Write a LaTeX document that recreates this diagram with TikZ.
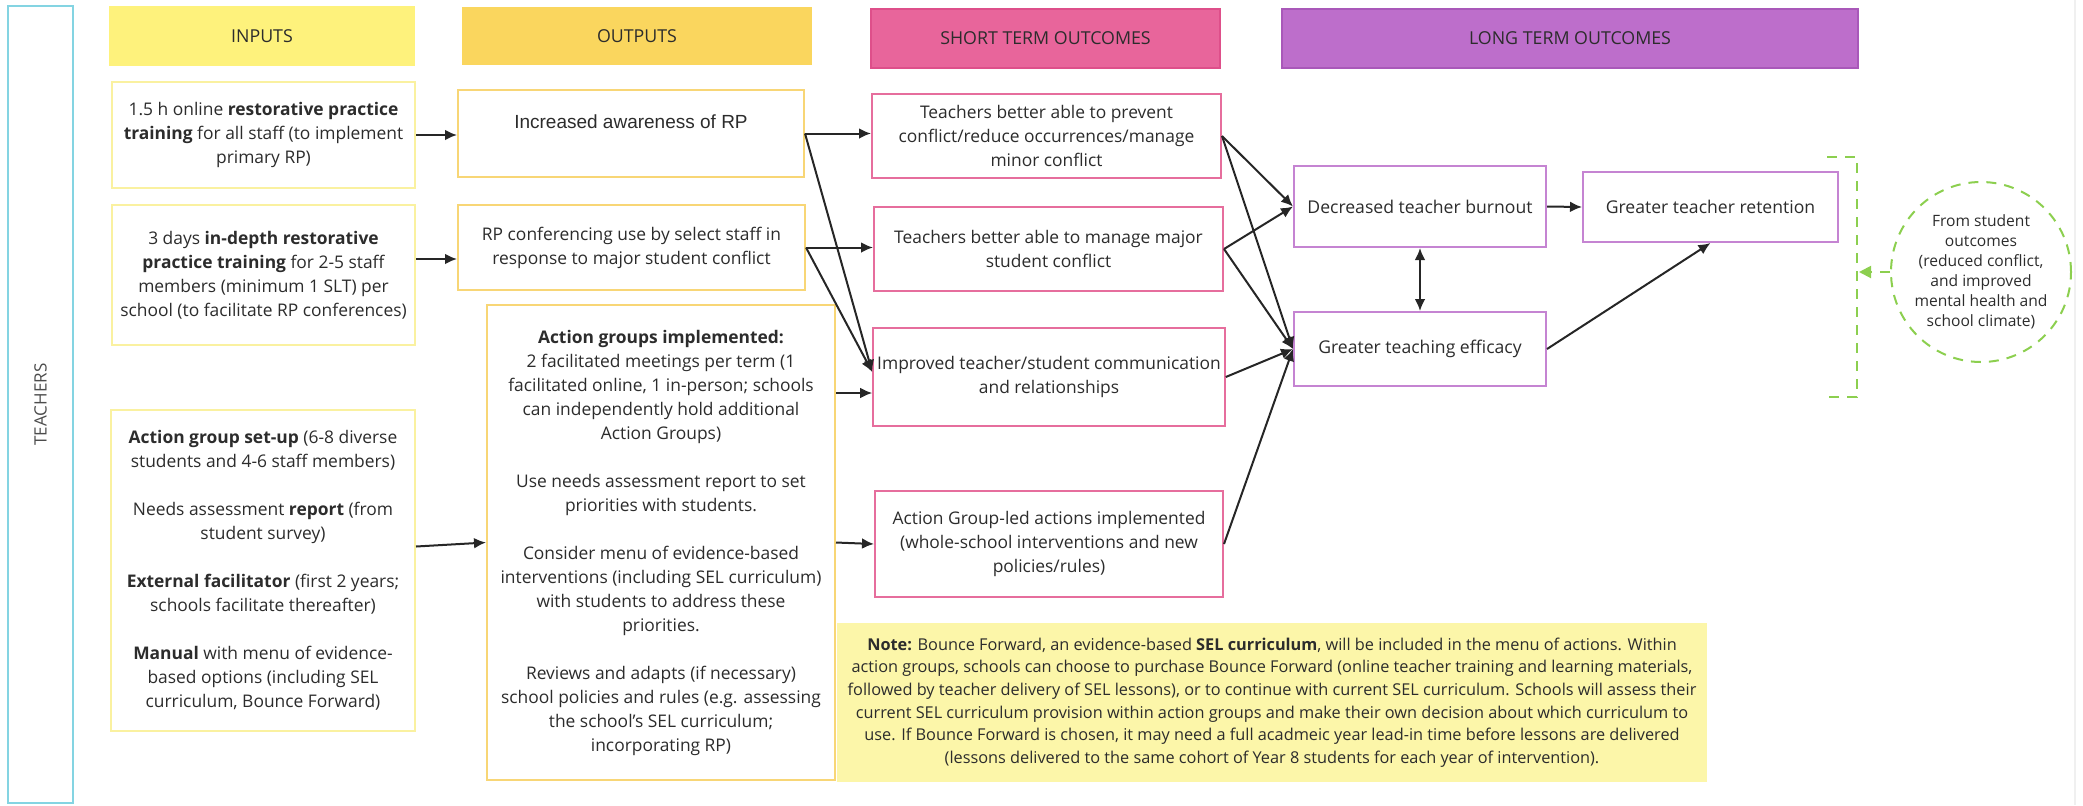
\documentclass[tikz,border=0pt]{standalone}
\usepackage{fontspec}
\setmainfont{Open Sans}
\newfontfamily\arialfont{Liberation Sans}
\usetikzlibrary{arrows.meta}
\definecolor{textgray}{HTML}{2C2C2C}
\definecolor{arrowgray}{HTML}{262626}
\definecolor{tealline}{HTML}{84D4E2}
\definecolor{inhead}{HTML}{FEF27C}
\definecolor{inline}{HTML}{FAF1A0}
\definecolor{outhead}{HTML}{FAD65E}
\definecolor{outline}{HTML}{F8D676}
\definecolor{sthead}{HTML}{E8659B}
\definecolor{stheadline}{HTML}{DE4F8A}
\definecolor{stline}{HTML}{E66E9D}
\definecolor{lthead}{HTML}{BD6ECB}
\definecolor{ltheadline}{HTML}{A958B9}
\definecolor{ltline}{HTML}{C584D2}
\definecolor{notefill}{HTML}{FCF6A9}
\definecolor{greendash}{HTML}{8CCF4F}
\newcommand\bodysize{\fontsize{8.7pt}{12pt}\selectfont}
\newcommand\headsize{\fontsize{8.9pt}{11pt}\selectfont}
\newcommand\longsize{\fontsize{8.8pt}{12pt}\selectfont}
\newcommand\notesize{\fontsize{8.15pt}{11.3pt}\selectfont}
\newcommand\circsize{\fontsize{7.8pt}{10pt}\selectfont}
\tikzset{
  flowarrow/.style={-{Latex[length=6pt,width=5.4pt]}, line width=1pt, draw=arrowgray},
  header/.style={inner sep=0pt, text=textgray, font=\headsize},
  inbox/.style={draw=inline, line width=1pt, fill=white, align=center, inner sep=2pt, text=textgray, font=\bodysize},
  outbox/.style={draw=outline, line width=1pt, fill=white, align=center, inner sep=2pt, text=textgray, font=\bodysize},
  shortbox/.style={draw=stline, line width=1pt, fill=white, align=center, inner sep=2pt, text=textgray, font=\bodysize},
  longbox/.style={draw=ltline, line width=1pt, fill=white, align=center, inner sep=2pt, text=textgray, font=\longsize},
  notebox/.style={fill=notefill, align=center, inner sep=1pt, text=textgray, font=\notesize},
  greenline/.style={draw=greendash, line width=1pt, dash pattern=on 5pt off 4pt}
}
\begin{document}
\begin{tikzpicture}[x=0.5pt, y=-0.5pt]
  \useasboundingbox (0,0) rectangle (2083,805);
  \draw[gray!12, line width=1pt] (2075,0) -- (2075,805);

  % side label
  \node[draw=tealline, line width=1pt, rotate=90, minimum width=398.5pt, minimum height=32.5pt,
        text=textgray!85, font=\fontsize{8.5pt}{10pt}\selectfont] (teach) at (40.5,404.5) {TEACHERS};

  % column headers
  \node[header, fill=inhead, minimum width=153pt, minimum height=30pt] (inputs) at (262,36) {INPUTS};
  \node[header, fill=outhead, minimum width=175pt, minimum height=29pt] (outputs) at (637,36) {OUTPUTS};
  \node[header, fill=sthead, draw=stheadline, line width=0.8pt, minimum width=174.5pt, minimum height=29.5pt] (short) at (1045.5,38.5) {SHORT TERM OUTCOMES};
  \node[header, fill=lthead, draw=ltheadline, line width=0.8pt, minimum width=288pt, minimum height=29.5pt] (long) at (1570,38.5) {LONG TERM OUTCOMES};

  % inputs
  \node[inbox, minimum width=151.5pt, minimum height=53pt] (in1) at (263.5,135)
    {1.5 h online \textbf{restorative practice}\\ \textbf{training} for all staff (to implement\\ primary RP)};
  \node[inbox, minimum width=151.5pt, minimum height=70pt] (in2) at (263.5,275)
    {3 days \textbf{in-depth restorative}\\ \textbf{practice training} for 2-5 staff\\ members (minimum 1 SLT) per\\ school (to facilitate RP conferences)};
  \node[inbox, minimum width=152pt, minimum height=160.5pt] (in3) at (263,570.5)
    {\textbf{Action group set-up} (6-8 diverse\\ students and 4-6 staff members)\\[12pt]
     Needs assessment \textbf{report} (from\\ student survey)\\[12pt]
     \textbf{External facilitator} (first 2 years;\\ schools facilitate thereafter)\\[12pt]
     \textbf{Manual} with menu of evidence-\\ based options (including SEL\\ curriculum, Bounce Forward)};

  % outputs
  \node[outbox, minimum width=173pt, minimum height=43.5pt, font=\arialfont\fontsize{9.5pt}{12pt}\selectfont] (out1) at (631,133.5)
    {Increased awareness of RP\\ \mbox{}};
  \node[outbox, minimum width=173.5pt, minimum height=42.5pt] (out2) at (631.5,247.5)
    {RP conferencing use by select staff in\\ response to major student conflict};
  \node[outbox, minimum width=174pt, minimum height=237.5pt] (out3) at (661,542.5)
    {\textbf{Action groups implemented:}\\ 2 facilitated meetings per term (1\\ facilitated online, 1 in-person; schools\\ can independently hold additional\\ Action Groups)\\[12pt]
     Use needs assessment report to set\\ priorities with students.\\[12pt]
     Consider menu of evidence-based\\ interventions (including SEL curriculum)\\ with students to address these\\ priorities.\\[12pt]
     Reviews and adapts (if necessary)\\ school policies and rules (e.g. assessing\\ the school's SEL curriculum;\\ incorporating RP)};

  % short term outcomes
  \node[shortbox, minimum width=174.5pt, minimum height=42pt] (st1) at (1046.5,136)
    {Teachers better able to prevent\\ conflict/reduce occurrences/manage\\ minor conflict};
  \node[shortbox, minimum width=174.5pt, minimum height=42pt] (st2) at (1048.5,249)
    {Teachers better able to manage major\\ student conflict};
  \node[shortbox, minimum width=174pt, minimum height=49pt] (st3) at (1049,377)
    {Improved teacher/student communication\\ and relationships};
  \node[shortbox, minimum width=174pt, minimum height=53pt] (st4) at (1049,544)
    {Action Group-led actions implemented\\ (whole-school interventions and new\\ policies/rules)};

  % long term outcomes
  \node[longbox, minimum width=126pt, minimum height=40.5pt] (lt1) at (1420,206.5) {Decreased teacher burnout};
  \node[longbox, minimum width=127.5pt, minimum height=35pt] (lt2) at (1710.5,207) {Greater teacher retention};
  \node[longbox, minimum width=126pt, minimum height=37pt] (lt3) at (1420,349) {Greater teaching efficacy};

  % note
  \node[notebox, minimum width=435pt, minimum height=79.5pt] (note) at (1272,702.5)
    {\textbf{Note:} Bounce Forward, an evidence-based \textbf{SEL curriculum}, will be included in the menu of actions. Within\\
     action groups, schools can choose to purchase Bounce Forward (online teacher training and learning materials,\\
     followed by teacher delivery of SEL lessons), or to continue with current SEL curriculum. Schools will assess their\\
     current SEL curriculum provision within action groups and make their own decision about which curriculum to\\
     use. If Bounce Forward is chosen, it may need a full acadmeic year lead-in time before lessons are delivered\\
     (lessons delivered to the same cohort of Year 8 students for each year of intervention).};

  % student outcomes feed
  \node[circle, greenline, minimum size=90pt, inner sep=0pt, align=center, text=textgray, font=\circsize] (student) at (1981,272)
    {From student\\ outcomes\\ (reduced conflict,\\ and improved\\ mental health and\\ school climate)};
  \coordinate (brtop) at (1827,157);
  \coordinate (brbot) at (1827,397);
  \coordinate (brin) at (1859,272);
  \draw[greenline] (brtop) -- (1857,157) -- (1857,397) -- (brbot);
  \draw[greenline, -{Triangle[length=6pt,width=6pt]}] (student.west) -- (brin);

  % connectors
  \coordinate (st3in) at ([yshift=2.5pt]st3.west);
  \draw[flowarrow] (in1.east) -- (in1.east -| out1.west);
  \draw[flowarrow] ([yshift=8pt]in2.east) -- ([yshift=8pt]in2.east -| out2.west);
  \draw[flowarrow] ([yshift=12pt]in3.east) -- (out3.west);
  \draw[flowarrow] (out1.east) -- (out1.east -| st1.west);
  \draw[flowarrow] (out1.east) -- (st3in);
  \draw[flowarrow] (out2.east) -- (out2.east -| st2.west);
  \draw[flowarrow] (out2.east) -- (st3in);
  \draw[flowarrow] ([yshift=74.75pt]out3.east) -- ([yshift=74.75pt]out3.east -| st3.west);
  \draw[flowarrow] (out3.east) -- (st4.west);
  \draw[flowarrow] (st1.east) -- (lt1.west);
  \draw[flowarrow] (st1.east) -- (lt3.west);
  \draw[flowarrow] (st2.east) -- (lt1.west);
  \draw[flowarrow] (st2.east) -- (lt3.west);
  \draw[flowarrow] (st3.east) -- (lt3.west);
  \draw[flowarrow] (st4.east) -- (lt3.west);
  \draw[flowarrow] (lt1.east) -- (lt2.west);
  \draw[flowarrow, {Latex[length=6pt,width=5.4pt]}-{Latex[length=6pt,width=5.4pt]}] (lt1.south) -- (lt3.north);
  \draw[flowarrow] (lt3.east) -- (lt2.south);
\end{tikzpicture}
\end{document}
